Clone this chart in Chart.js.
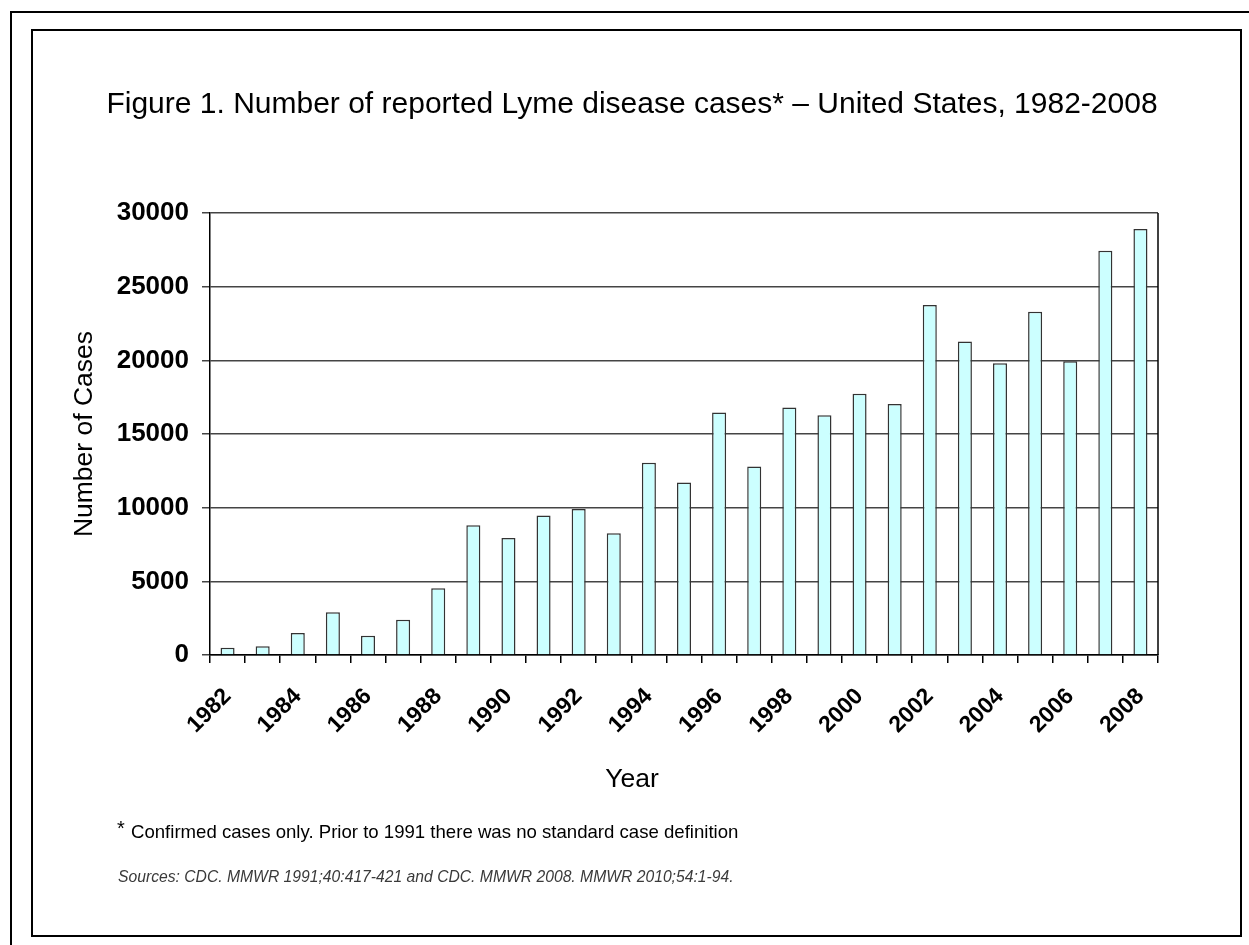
<!DOCTYPE html>
<html>
<head>
<meta charset="utf-8">
<title>Lyme disease cases, United States, 1982-2008</title>
<script src="https://cdn.jsdelivr.net/npm/chart.js@4.4.1/dist/chart.umd.min.js"></script>
<style>
  html, body { margin: 0; padding: 0; background: #fff; }
  #wrap { position: relative; width: 1249px; height: 945px; overflow: hidden; }
  .frame-outer { position: absolute; left: 10px; top: 11px; width: 1400px; height: 1100px;
                 border-left: 2px solid #000; border-top: 2px solid #000; }
  .frame-inner { position: absolute; left: 31px; top: 29px; width: 1211px; height: 908px;
                 border: 2px solid #000; box-sizing: border-box; }
  #chart { position: absolute; left: 0; top: 0; }
</style>
</head>
<body>
<div id="wrap">
  <div class="frame-outer"></div>
  <div class="frame-inner"></div>
  <canvas id="chart" width="1249" height="945"></canvas>
</div>
<script>
// Reported (confirmed) Lyme disease cases per year
const years = ['1982','1983','1984','1985','1986','1987','1988','1989','1990','1991',
               '1992','1993','1994','1995','1996','1997','1998','1999','2000','2001',
               '2002','2003','2004','2005','2006','2007','2008'];
const cases = [500, 600, 1500, 2900, 1300, 2400, 4530, 8800, 7943, 9470,
               9908, 8257, 13043, 11700, 16455, 12801, 16801, 16273, 17730, 17029,
               23763, 21273, 19804, 23305, 19931, 27444, 28921];
// Axis range and tick spacing
const yMin = 0;
const yMax = 30000;
const yStep = 5000;
// Only every second year is labelled
const yearLabels = years.map((y, i) => (i % 2 === 0 ? y : ''));

const titleText = 'Figure 1. Number of reported Lyme disease cases* \u2013 United States, 1982-2008';
const xTitleText = 'Year';
const yTitleText = 'Number of Cases';
const footnoteText = 'Confirmed cases only. Prior to 1991 there was no standard case definition';
const sourcesText = 'Sources: CDC. MMWR 1991;40:417-421 and CDC. MMWR 2008. MMWR 2010;54:1-94.';

const FONT = '"Liberation Sans", Arial, Helvetica, sans-serif';

// Title, x-axis caption, footnotes and the right edge of the plot frame
const decorations = {
  id: 'decorations',
  afterDraw(chart) {
    const { ctx, chartArea } = chart;
    ctx.save();
    // right edge of the plot frame
    ctx.strokeStyle = '#000';
    ctx.lineWidth = 1.5;
    ctx.beginPath();
    ctx.moveTo(chartArea.right, chartArea.top);
    ctx.lineTo(chartArea.right, chartArea.bottom);
    ctx.stroke();

    ctx.fillStyle = '#000';
    ctx.textBaseline = 'middle';
    ctx.textAlign = 'center';
    ctx.font = '30px ' + FONT;
    ctx.fillText(titleText, 632, 105);

    ctx.font = '26.5px ' + FONT;
    ctx.fillText(xTitleText, 632, 780);

    ctx.textAlign = 'left';
    ctx.font = '20px ' + FONT;
    ctx.fillText('*', 117, 829);
    ctx.font = '18.6px ' + FONT;
    ctx.fillText(footnoteText, 131, 833);

    ctx.fillStyle = '#3a3a3a';
    ctx.font = 'italic 15.7px ' + FONT;
    ctx.fillText(sourcesText, 118, 878);
    ctx.restore();
  }
};

new Chart(document.getElementById('chart'), {
  type: 'bar',
  data: {
    labels: years,
    datasets: [{
      label: 'Cases',
      data: cases,
      backgroundColor: '#CCFFFF',
      borderColor: '#333333',
      borderWidth: 1.5,
      barPercentage: 0.4,
      categoryPercentage: 1.0
    }]
  },
  options: {
    responsive: false,
    animation: false,
    devicePixelRatio: 1,
    layout: { padding: { left: 0, right: 91, top: 213, bottom: 170 } },
    plugins: {
      legend: { display: false },
      title: { display: false },
      tooltip: { enabled: false }
    },
    scales: {
      x: {
        offset: true,
        grid: { display: true, offset: true, drawOnChartArea: false, drawTicks: true,
                tickLength: 8, color: '#000', lineWidth: 1.5 },
        border: { display: true, color: '#000', width: 1.5 },
        ticks: {
          autoSkip: false,
          minRotation: 45,
          maxRotation: 45,
          padding: 20,
          color: '#000',
          font: { family: FONT, size: 23, weight: 'bold' },
          callback: (value, index) => yearLabels[index]
        },
        afterFit: (scale) => { scale.height = 120; }
      },
      y: {
        min: yMin,
        max: yMax,
        grid: { display: true, drawTicks: true, tickLength: 8, color: '#444', lineWidth: 1.5 },
        border: { display: true, color: '#000', width: 1.5 },
        ticks: {
          stepSize: yStep,
          padding: 13,
          color: '#000',
          font: { family: FONT, size: 26, weight: 'bold' },
          callback: (value) => String(value)
        },
        title: {
          display: true,
          text: yTitleText,
          color: '#000',
          font: { family: FONT, size: 26.5 },
          padding: { top: 69, bottom: 0 }
        },
        afterFit: (scale) => { scale.width = 210; }
      }
    }
  },
  plugins: [decorations]
});
</script>
</body>
</html>
